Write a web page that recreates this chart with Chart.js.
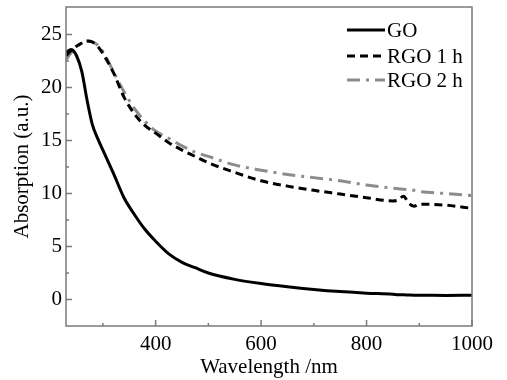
<!DOCTYPE html>
<html>
<head>
<meta charset="utf-8">
<script src="https://cdn.jsdelivr.net/npm/chart.js@4/dist/chart.umd.min.js"></script>
<style>
  html, body { margin: 0; padding: 0; background: #fff; }
</style>
</head>
<body>
<canvas id="absChart" width="507" height="380"></canvas>
<script>
// wavelength (nm) shared by all three spectra
const wavelengths = [230, 240, 250, 260, 270, 280, 290, 300, 320, 340, 360, 380, 400, 425, 450, 475,
                     500, 550, 600, 650, 700, 750, 800, 850, 860, 870, 880, 890, 900, 950, 1000];

const goValues =   [23.3, 23.6, 23.0, 21.5, 18.8, 16.5, 15.2, 14.1, 11.9, 9.6, 8.0, 6.6, 5.5, 4.3, 3.5, 3.0,
                    2.5, 1.9, 1.5, 1.2, 0.95, 0.75, 0.6, 0.5, 0.45, 0.45, 0.42, 0.4, 0.4, 0.38, 0.4];
const rgo1hValues = [23.0, 23.5, 23.9, 24.2, 24.4, 24.3, 23.9, 23.2, 21.4, 19.1, 17.5, 16.4, 15.7, 14.8, 14.1, 13.5,
                    12.9, 12.0, 11.2, 10.7, 10.3, 9.95, 9.6, 9.3, 9.4, 9.75, 9.1, 8.8, 9.0, 8.9, 8.6];
const rgo2hValues = [22.6, 23.3, 23.8, 24.2, 24.4, 24.3, 24.0, 23.4, 21.5, 19.6, 18.0, 16.8, 15.9, 15.2, 14.5, 13.9,
                    13.5, 12.7, 12.2, 11.8, 11.5, 11.2, 10.8, 10.5, 10.45, 10.4, 10.35, 10.3, 10.2, 10.0, 9.8];

const seriesNames = ['GO', 'RGO 1 h', 'RGO 2 h'];

const xTicks = [400, 600, 800, 1000];
const xMinorTicks = [300, 500, 700, 900];
const yTicks = [0, 5, 10, 15, 20, 25];
const yMinorTicks = [2.5, 7.5, 12.5, 17.5, 22.5];

const serif = "'Liberation Serif', 'DejaVu Serif', serif";
const axisColor = '#7a7a7a';
const textColor = '#000';

function toPoints(values) {
    return wavelengths.map((w, i) => ({ x: w, y: values[i] }));
}

// box round the plot, with short ticks pointing inward
const framePlugin = {
    id: 'frame',
    afterDatasetsDraw(chart) {
        const { ctx, chartArea: a, scales } = chart;
        ctx.save();
        ctx.strokeStyle = axisColor;
        ctx.lineWidth = 1.5;
        ctx.strokeRect(a.left, a.top, a.right - a.left, a.bottom - a.top);

        ctx.beginPath();
        xTicks.forEach(v => {
            const px = scales.x.getPixelForValue(v);
            ctx.moveTo(px, a.bottom); ctx.lineTo(px, a.bottom - 6);
        });
        xMinorTicks.forEach(v => {
            const px = scales.x.getPixelForValue(v);
            ctx.moveTo(px, a.bottom); ctx.lineTo(px, a.bottom - 3);
        });
        yTicks.forEach(v => {
            const py = scales.y.getPixelForValue(v);
            ctx.moveTo(a.left, py); ctx.lineTo(a.left + 6, py);
        });
        yMinorTicks.forEach(v => {
            const py = scales.y.getPixelForValue(v);
            ctx.moveTo(a.left, py); ctx.lineTo(a.left + 3, py);
        });
        ctx.stroke();
        ctx.restore();
    }
};

// legend in the top right corner, line sample then label
const legendPlugin = {
    id: 'lineLegend',
    afterDraw(chart) {
        const { ctx, chartArea: a } = chart;
        const x0 = a.right - 125;
        const rowY = [a.top + 23, a.top + 49, a.top + 73];
        ctx.save();
        chart.data.datasets.forEach((ds, i) => {
            ctx.beginPath();
            ctx.setLineDash(ds.borderDash || []);
            ctx.strokeStyle = ds.borderColor;
            ctx.lineWidth = ds.borderWidth;
            ctx.moveTo(x0, rowY[i]);
            ctx.lineTo(x0 + 38, rowY[i]);
            ctx.stroke();
            ctx.setLineDash([]);
            ctx.fillStyle = textColor;
            ctx.font = '21px ' + serif;
            ctx.textBaseline = 'middle';
            ctx.fillText(ds.label, x0 + 40, rowY[i] + 1);
        });
        ctx.restore();
    }
};

const ctx = document.getElementById('absChart').getContext('2d');
new Chart(ctx, {
    type: 'line',
    data: {
        datasets: [
            {
                label: seriesNames[0],
                data: toPoints(goValues),
                borderColor: '#000',
                borderWidth: 3,
                pointRadius: 0,
                cubicInterpolationMode: 'monotone'
            },
            {
                label: seriesNames[1],
                data: toPoints(rgo1hValues),
                borderColor: '#000',
                borderWidth: 3,
                borderDash: [8, 5],
                pointRadius: 0,
                cubicInterpolationMode: 'monotone'
            },
            {
                label: seriesNames[2],
                data: toPoints(rgo2hValues),
                borderColor: '#8c8c8c',
                borderWidth: 3,
                borderDash: [13, 6, 3, 6],
                pointRadius: 0,
                cubicInterpolationMode: 'monotone'
            }
        ]
    },
    options: {
        responsive: false,
        animation: false,
        layout: { padding: { top: 7, right: 35, left: 0, bottom: 0 } },
        plugins: {
            legend: { display: false },
            tooltip: { enabled: false }
        },
        scales: {
            x: {
                type: 'linear',
                min: 230,
                max: 1000,
                afterBuildTicks: axis => { axis.ticks = xTicks.map(v => ({ value: v })); },
                afterFit: axis => { axis.height = 54; },
                grid: { display: false, drawTicks: false },
                border: { display: false },
                ticks: {
                    color: textColor,
                    padding: 6,
                    maxRotation: 0,
                    callback: v => String(v),
                    font: { family: serif, size: 21 }
                },
                title: {
                    display: true,
                    text: 'Wavelength /nm',
                    color: textColor,
                    padding: { top: 0, bottom: 0 },
                    font: { family: serif, size: 21 }
                }
            },
            y: {
                min: -2.5,
                max: 27.6,
                afterBuildTicks: axis => { axis.ticks = yTicks.map(v => ({ value: v })); },
                afterFit: axis => {
                    axis.width = 66;
                    axis.paddingTop = 0;
                    axis.paddingBottom = 0;
                },
                grid: { display: false, drawTicks: false },
                border: { display: false },
                ticks: {
                    color: textColor,
                    padding: 4,
                    font: { family: serif, size: 21 }
                },
                title: {
                    display: true,
                    text: 'Absorption (a.u.)',
                    color: textColor,
                    padding: { top: 10, bottom: 0 },
                    font: { family: serif, size: 21 }
                }
            }
        }
    },
    plugins: [framePlugin, legendPlugin]
});
</script>
</body>
</html>
